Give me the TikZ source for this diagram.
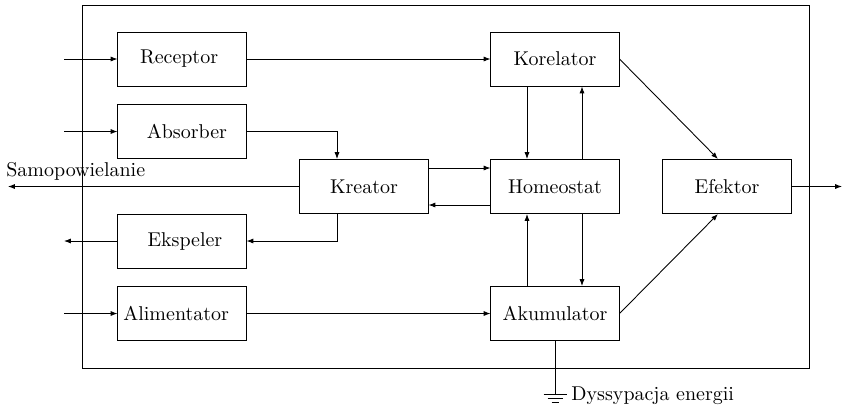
\documentclass[tikz,border=0pt]{standalone}
\usetikzlibrary{arrows.meta,calc}
\begin{document}
\begin{tikzpicture}[x=0.513pt,y=-0.513pt,
  font=\fontsize{10.25}{12}\selectfont,
  blk/.style={draw, line width=0.5pt, minimum width=65.7pt, minimum height=27.7pt, inner sep=0pt},
  arr/.style={-{Latex[length=3.5pt,width=2.6pt]}, line width=0.45pt},
  ln/.style={line width=0.45pt}]
\useasboundingbox (0,0) rectangle (843,411);
\draw[line width=0.5pt] (82,5) rectangle (809,368);
\node[blk] (rec) at (182,59) {Receptor\hspace*{3pt}};
\node[blk] (abs) at (182,131.5) {\hspace*{5pt}Absorber};
\node[blk] (eks) at (182,241) {\hspace*{3pt}Ekspeler};
\node[blk] (ali) at (182,313.5) {Alimentator\hspace*{6pt}};
\node[blk] (kre) at (364,186.5) {Kreator};
\node[blk] (kor) at (555,59) {Korelator};
\node[blk] (hom) at (555,186.5) {Homeostat};
\node[blk] (aku) at (555,313.5) {Akumulator};
\node[blk] (efe) at (727,186.5) {Efektor};
\coordinate (inrec) at (64,59);
\coordinate (inabs) at (64,131.5);
\coordinate (inali) at (64,313.5);
\coordinate (outeks) at (64,241);
\coordinate (outsam) at (8,186.5);
\coordinate (outefe) at (842,186.5);
\coordinate (gnd) at (555,394);
\node[anchor=base west, inner sep=0pt] (sam) at (6,176) {Samopowielanie};
\draw[arr] (inrec) -- (rec.west);
\draw[arr] (inabs) -- (abs.west);
\draw[arr] (inali) -- (ali.west);
\draw[arr] (eks.west) -- (outeks);
\draw[arr] (kre.west) -- (outsam);
\draw[arr] (efe.east) -- (outefe);
\draw[arr] (rec.east) -- (kor.west);
\draw[arr] (ali.east) -- (aku.west);
\draw[arr] (abs.east) -| ($(kre.north)+(-27,0)$);
\draw[arr] ($(kre.south)+(-27,0)$) |- (eks.east);
\draw[arr] ($(kre.east)+(0,-18.5)$) -- ($(hom.west)+(0,-18.5)$);
\draw[arr] ($(hom.west)+(0,18.5)$) -- ($(kre.east)+(0,18.5)$);
\draw[arr] ($(kor.south)+(-28,0)$) -- ($(hom.north)+(-28,0)$);
\draw[arr] ($(hom.north)+(27,0)$) -- ($(kor.south)+(27,0)$);
\draw[arr] ($(aku.north)+(-28,0)$) -- ($(hom.south)+(-28,0)$);
\draw[arr] ($(hom.south)+(27,0)$) -- ($(aku.north)+(27,0)$);
\draw[arr] (kor.east) -- ($(efe.north)+(-9,0)$);
\draw[arr] (aku.east) -- ($(efe.south)+(-9,0)$);
\draw[ln] (aku.south) -- (gnd);
\draw[ln] ($(gnd)+(-11.5,0)$) -- ($(gnd)+(11.5,0)$);
\draw[ln] ($(gnd)+(-7.5,4)$) -- ($(gnd)+(7.5,4)$);
\draw[ln] ($(gnd)+(-3.5,8)$) -- ($(gnd)+(3.5,8)$);
\node[anchor=west, inner sep=0pt] (dys) at (571,396) {Dyssypacja energii};
\end{tikzpicture}
\end{document}
